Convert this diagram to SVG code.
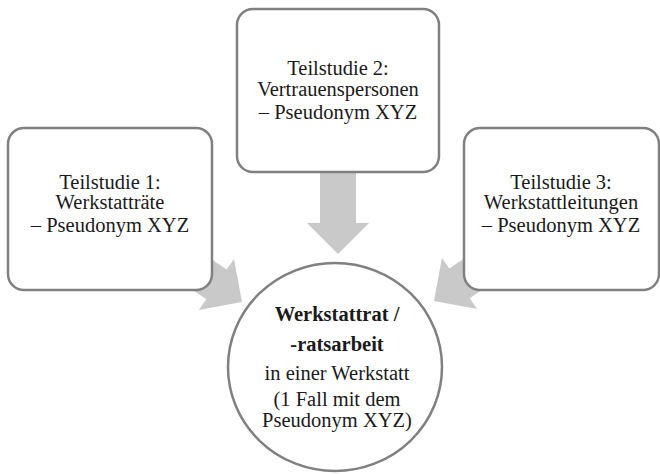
<svg xmlns="http://www.w3.org/2000/svg" width="660" height="474" viewBox="0 0 660 474" font-family="'Liberation Serif', 'Times New Roman', 'DejaVu Serif', serif">
<defs>
<style>
.box{fill:#fff;stroke:#808080;stroke-width:2.5}
.arrow{fill:#c9c9c9;stroke:none}
.t{font-family:'Liberation Serif','Times New Roman','DejaVu Serif',serif;font-size:20.5px;fill:#1a1a1a;text-anchor:middle}
.b{font-weight:bold}
</style>
<polygon id="arr" class="arrow" points="-100,-18 -31,-18 -31,-31 0,0 -31,31 -31,18 -100,18"/>
</defs>
<g id="connectors">
<use href="#arr" transform="translate(338,254) rotate(90)"/>
<use href="#arr" transform="translate(242,302) rotate(34.5)"/>
<use href="#arr" transform="translate(434,301) rotate(145.5)"/>
</g>
<g id="node-teilstudie1">
<rect class="box" x="8" y="128" width="204" height="162" rx="16"/>
<text class="t" x="110" y="189">Teilstudie 1:</text>
<text class="t" x="110" y="209">Werkstatträte</text>
<text class="t" x="110" y="232">– Pseudonym XYZ</text>
</g>
<g id="node-teilstudie2">
<rect class="box" x="237" y="9" width="202" height="163" rx="16"/>
<text class="t" x="338" y="75">Teilstudie 2:</text>
<text class="t" x="338" y="96">Vertrauenspersonen</text>
<text class="t" x="338" y="119">– Pseudonym XYZ</text>
</g>
<g id="node-teilstudie3">
<rect class="box" x="464" y="128" width="195" height="162" rx="16"/>
<text class="t" x="561" y="189">Teilstudie 3:</text>
<text class="t" x="561" y="209">Werkstattleitungen</text>
<text class="t" x="561" y="232">– Pseudonym XYZ</text>
</g>
<g id="node-werkstattrat">
<ellipse class="box" cx="335" cy="367" rx="107" ry="104"/>
<text class="t b" x="337" y="321">Werkstattrat /</text>
<text class="t b" x="337" y="351">-ratsarbeit</text>
<text class="t" x="337" y="380">in einer Werkstatt</text>
<text class="t" x="337" y="406">(1 Fall mit dem</text>
<text class="t" x="337" y="427">Pseudonym XYZ)</text>
</g>
</svg>
